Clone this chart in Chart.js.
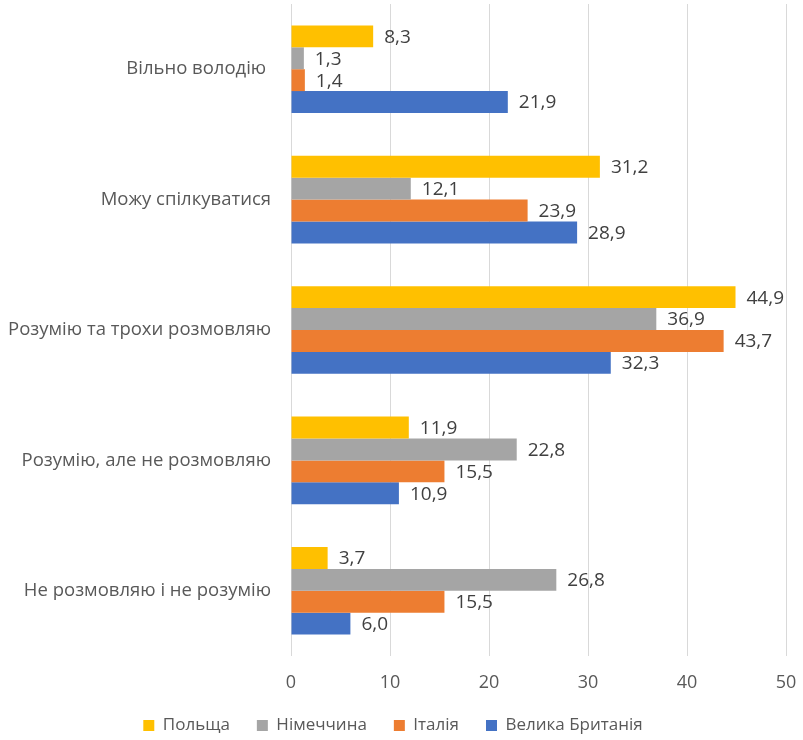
<!DOCTYPE html>
<html>
<head>
<meta charset="utf-8">
<script src="https://cdn.jsdelivr.net/npm/chart.js@4.4.1/dist/chart.umd.min.js"></script>
<style>
  html, body { margin: 0; padding: 0; background: #fff; }
  #wrap { width: 803px; height: 740px; }
</style>
</head>
<body>
<div id="wrap"><canvas id="c" width="803" height="740"></canvas></div>
<script>
const categories = ['Вільно володію ', 'Можу спілкуватися', 'Розумію та трохи розмовляю', 'Розумію, але не розмовляю', 'Не розмовляю і не розумію'];
const seriesNames = ['Польща', 'Німеччина', 'Італія', 'Велика Британія'];
const poland = [8.3, 31.2, 44.9, 11.9, 3.7];
const germany = [1.3, 12.1, 36.9, 22.8, 26.8];
const italy = [1.4, 23.9, 43.7, 15.5, 15.5];
const uk = [21.9, 28.9, 32.3, 10.9, 6.0];
const xTicks = [0, 10, 20, 30, 40, 50];
const colors = ['#FFC000', '#A5A5A5', '#ED7D31', '#4472C4'];

const FONT = "'Open Sans', sans-serif";

const labelPlugin = {
  id: 'barLabels',
  afterDatasetsDraw(chart) {
    const ctx = chart.ctx;
    ctx.save();
    ctx.font = "19px " + FONT;
    ctx.fillStyle = '#404040';
    ctx.textAlign = 'left';
    ctx.textBaseline = 'middle';
    chart.data.datasets.forEach((ds, i) => {
      const meta = chart.getDatasetMeta(i);
      meta.data.forEach((bar, j) => {
        const v = ds.data[j];
        ctx.fillText(v.toFixed(1).replace('.', ','), bar.x + 11, bar.y + 1);
      });
    });
    ctx.restore();
  }
};

const legendSizePlugin = {
  id: 'legendSize',
  beforeLayout(chart) {
    const lg = chart.legend;
    if (lg && !lg._patched) {
      const orig = lg.fit.bind(lg);
      lg.fit = function () { orig(); this.height = 50; };
      lg._patched = true;
    }
  }
};

new Chart(document.getElementById('c'), {
  type: 'bar',
  data: {
    labels: categories,
    datasets: [
      { label: seriesNames[0], data: poland, backgroundColor: colors[0] },
      { label: seriesNames[1], data: germany, backgroundColor: colors[1] },
      { label: seriesNames[2], data: italy, backgroundColor: colors[2] },
      { label: seriesNames[3], data: uk, backgroundColor: colors[3] }
    ]
  },
  options: {
    indexAxis: 'y',
    responsive: false,
    animation: false,
    layout: { padding: { top: 4, right: 17, left: 0, bottom: 0 } },
    datasets: { bar: { barPercentage: 1.0, categoryPercentage: 0.672, borderWidth: 0 } },
    scales: {
      x: {
        min: 0, max: 50,
        afterBuildTicks: s => { s.ticks = xTicks.map(v => ({ value: v })); },
        grid: { color: '#D9D9D9', lineWidth: 1, drawTicks: false },
        border: { display: false },
        ticks: { color: '#595959', font: { family: FONT, size: 18 }, padding: 16 },
        afterFit: s => { s.height = 34; s.paddingLeft = 0; s.paddingRight = 0; }
      },
      y: {
        grid: { display: false, drawTicks: false },
        border: { display: false },
        ticks: { color: '#595959', font: { family: FONT, size: 18.5 }, padding: 20 },
        afterFit: s => { s.width = 291; s.paddingTop = 0; s.paddingBottom = 0; }
      }
    },
    plugins: {
      legend: {
        position: 'bottom',
        labels: {
          color: '#595959',
          font: { family: FONT, size: 17 },
          boxWidth: 11, boxHeight: 11,
          padding: 27
        }
      },
      tooltip: { enabled: false }
    }
  },
  plugins: [labelPlugin, legendSizePlugin]
});
</script>
</body>
</html>
